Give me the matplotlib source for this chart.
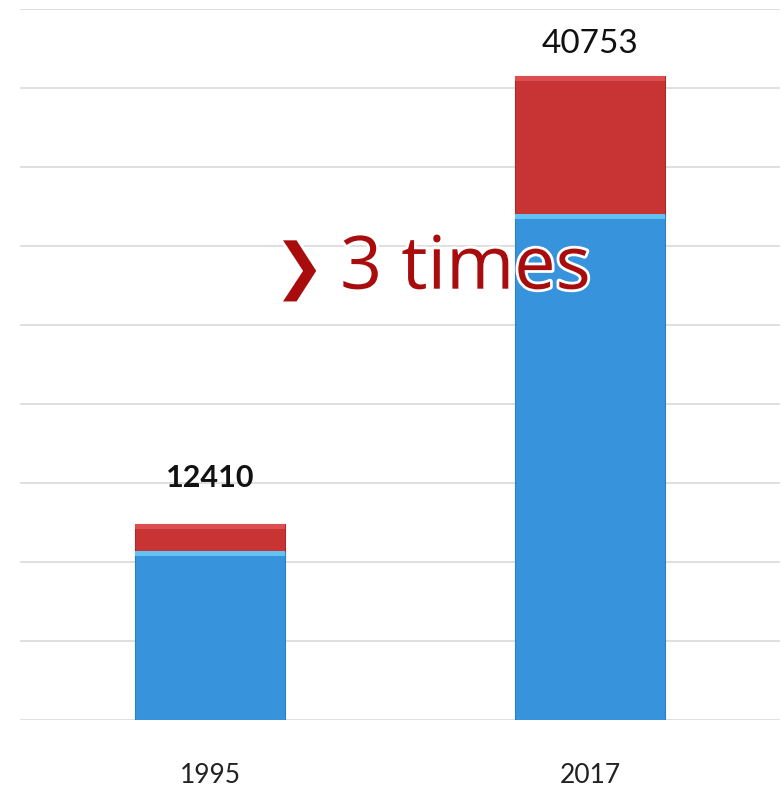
import matplotlib.pyplot as plt
import matplotlib.patheffects as pe

years = ["1995", "2017"]
blue_part = [10700, 32000]
red_part = [1710, 8753]
totals = [12410, 40753]

plt.rcParams['font.family'] = ['Lato', 'DejaVu Sans']

fig = plt.figure(figsize=(7.84, 7.89), dpi=100)
ax = fig.add_axes([0.0255, 0.0875, 0.9695, 0.9011])

x = [0, 1]
w = 0.395
ax.bar(x, blue_part, width=w, color="#3794DC", edgecolor="#2E7FC0", linewidth=0.8, zorder=2)
ax.bar(x, red_part, bottom=blue_part, width=w, color="#C83434", edgecolor="#A82A2A", linewidth=0.8, zorder=2)
# light strip on top of each segment (bevel look)
ax.bar(x, [300, 300], bottom=[b - 300 for b in blue_part], width=w, color="#62C3F2", linewidth=0, zorder=3)
ax.bar(x, [300, 300], bottom=[t - 300 for t in totals], width=w, color="#DD4E4E", linewidth=0, zorder=3)

ax.set_xlim(-0.5, 1.5)
ax.set_ylim(0, 45000)
ax.set_yticks(range(0, 45001, 5000))
ax.yaxis.grid(True, color="#D9D9D9", linewidth=1.2)
ax.set_axisbelow(True)
ax.tick_params(axis='y', left=False, labelleft=False)
ax.set_xticks(x)
ax.set_xticklabels(years, fontsize=19, color="#222222", family=['Liberation Sans Narrow', 'Lato'])
ax.tick_params(axis='x', length=0, pad=31)
for s in ax.spines.values():
    s.set_visible(False)

ax.annotate(str(totals[0]), (x[0], totals[0]), xytext=(0, 33), textcoords="offset points",
            ha="center", va="center", fontsize=22, fontweight="bold", color="#111111")
ax.annotate(str(totals[1]), (x[1], totals[1]), xytext=(0, 23), textcoords="offset points",
            ha="center", va="center", fontsize=24, color="#111111")

glow = [pe.withStroke(linewidth=4, foreground="white")]
ax.text(0.235, 28400, "\u276f", fontsize=44, color="#A80C0C", family=['DejaVu Sans'],
        ha="center", va="center", path_effects=glow, zorder=5)
ax.text(0.672, 28500, "3 times", fontsize=53, color="#A80C0C", family=['Open Sans', 'DejaVu Sans'],
        ha="center", va="center", path_effects=glow, zorder=5)

fig.savefig("out.png", dpi=100)
